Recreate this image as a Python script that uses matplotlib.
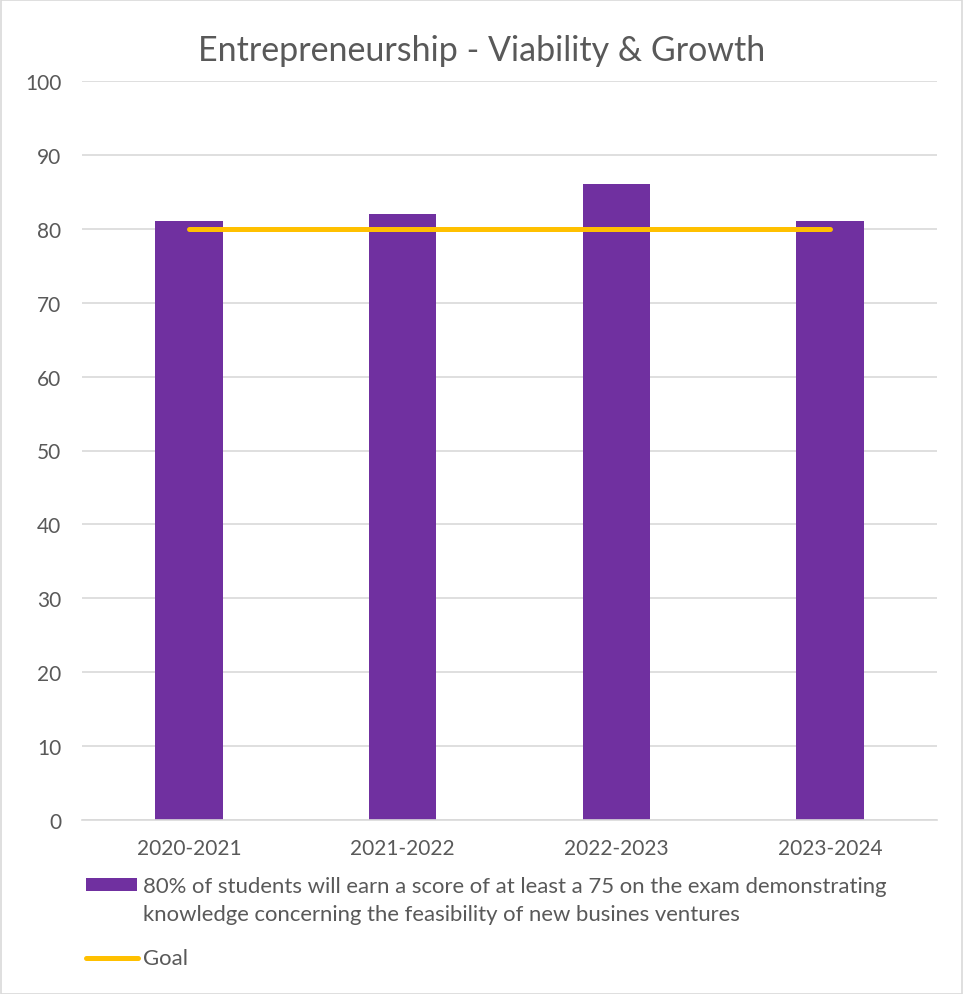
import matplotlib
matplotlib.use("Agg")
import matplotlib.pyplot as plt
from matplotlib.patches import Rectangle
from matplotlib.lines import Line2D

# Data
years = ["2020-2021", "2021-2022", "2022-2023", "2023-2024"]
scores = [81, 82, 86, 81]
goal = [80, 80, 80, 80]
series_label = ("80% of students will earn a score of at least a 75 on the exam demonstrating\n"
                "knowledge concerning the feasibility of new busines ventures")
goal_label = "Goal"
title = "Entrepreneurship - Viability & Growth"

PURPLE = "#7030A0"
GOLD = "#FFC000"
TEXT = "#595959"
GRID = "#D9D9D9"

plt.rcParams["font.family"] = ["Lato", "DejaVu Sans"]

W, H = 963, 995
fig = plt.figure(figsize=(W / 100, H / 100), dpi=100)

# Outer chart border
fig.patches.append(Rectangle((0.5 / W, 0.5 / H), 1 - 1.5 / W, 1 - 1.5 / H,
                             transform=fig.transFigure, fill=False,
                             edgecolor="#D9D9D9", linewidth=1.2))

ax = fig.add_axes([82 / W, (H - 821) / H, (937 - 82) / W, (821 - 82) / H])
x = list(range(len(years)))
ax.bar(x, scores, width=0.315, color=PURPLE, zorder=2)
ax.plot(x, goal, color=GOLD, linewidth=3.6, solid_capstyle="round", zorder=3)

ax.set_xlim(-0.5, len(years) - 0.5)
ax.set_ylim(0, 100)
ax.set_yticks(range(0, 101, 10))
ax.set_xticks(x)
ax.set_xticklabels(years)
ax.grid(axis="y", color=GRID, linewidth=1.2, zorder=0)
ax.set_axisbelow(True)
for side in ["top", "right", "left"]:
    ax.spines[side].set_visible(False)
ax.spines["bottom"].set_color(GRID)
ax.spines["bottom"].set_linewidth(1.2)
ax.tick_params(axis="both", length=0, labelsize=15, colors=TEXT)
ax.tick_params(axis="y", pad=15)
ax.tick_params(axis="x", pad=13)

fig.text(0.5, (H - 51) / H, title, ha="center", va="center",
         fontsize=24.5, color=TEXT)

# Legend drawn in figure pixels
fig.patches.append(Rectangle((86 / W, (H - 892) / H), 51 / W, 13 / H,
                             transform=fig.transFigure, facecolor=PURPLE,
                             edgecolor="none"))
fig.text(143 / W, (H - 901) / H, series_label, ha="left", va="center",
         fontsize=15.9, color=TEXT, linespacing=1.5)
fig.lines.append(Line2D([86 / W, 138 / W], [(H - 959) / H] * 2,
                        transform=fig.transFigure, color=GOLD,
                        linewidth=3.6, solid_capstyle="round"))
fig.text(143 / W, (H - 959) / H, goal_label, ha="left", va="center",
         fontsize=15.9, color=TEXT)

fig.savefig("out.png", dpi=100)
